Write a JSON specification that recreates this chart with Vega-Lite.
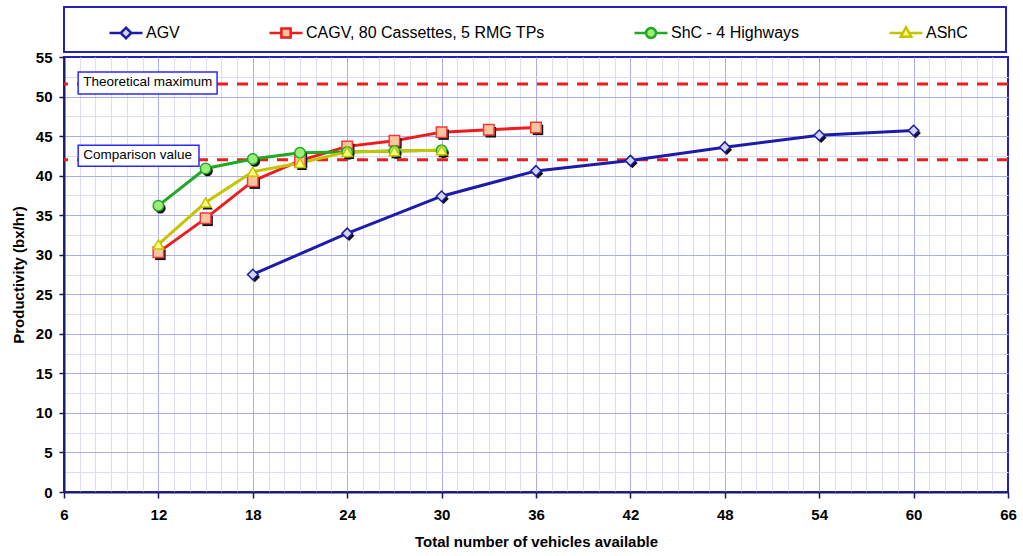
{
  "$schema": "https://vega.github.io/schema/vega-lite/v6.json",
  "width": 944,
  "height": 435,
  "autosize": {"type": "none"},
  "padding": {"left": 64, "top": 57, "right": 15, "bottom": 64},
  "background": "white",
  "config": {
    "font": "Liberation Sans",
    "view": {"stroke": "#2323b8", "strokeWidth": 2}
  },
  "datasets": {
    "series": [
      {"series": "AGV", "vehicles": 18, "productivity": 27.5},
      {"series": "AGV", "vehicles": 24, "productivity": 32.7},
      {"series": "AGV", "vehicles": 30, "productivity": 37.4},
      {"series": "AGV", "vehicles": 36, "productivity": 40.6},
      {"series": "AGV", "vehicles": 42, "productivity": 41.9},
      {"series": "AGV", "vehicles": 48, "productivity": 43.6},
      {"series": "AGV", "vehicles": 54, "productivity": 45.1},
      {"series": "AGV", "vehicles": 60, "productivity": 45.7},
      {"series": "CAGV, 80 Cassettes, 5 RMG TPs", "vehicles": 12, "productivity": 30.3},
      {"series": "CAGV, 80 Cassettes, 5 RMG TPs", "vehicles": 15, "productivity": 34.6},
      {"series": "CAGV, 80 Cassettes, 5 RMG TPs", "vehicles": 18, "productivity": 39.3},
      {"series": "CAGV, 80 Cassettes, 5 RMG TPs", "vehicles": 21, "productivity": 41.9},
      {"series": "CAGV, 80 Cassettes, 5 RMG TPs", "vehicles": 24, "productivity": 43.7},
      {"series": "CAGV, 80 Cassettes, 5 RMG TPs", "vehicles": 27, "productivity": 44.4},
      {"series": "CAGV, 80 Cassettes, 5 RMG TPs", "vehicles": 30, "productivity": 45.5},
      {"series": "CAGV, 80 Cassettes, 5 RMG TPs", "vehicles": 33, "productivity": 45.8},
      {"series": "CAGV, 80 Cassettes, 5 RMG TPs", "vehicles": 36, "productivity": 46.1},
      {"series": "ShC - 4 Highways", "vehicles": 12, "productivity": 36.2},
      {"series": "ShC - 4 Highways", "vehicles": 15, "productivity": 40.9},
      {"series": "ShC - 4 Highways", "vehicles": 18, "productivity": 42.1},
      {"series": "ShC - 4 Highways", "vehicles": 21, "productivity": 42.9},
      {"series": "ShC - 4 Highways", "vehicles": 24, "productivity": 43.0},
      {"series": "ShC - 4 Highways", "vehicles": 27, "productivity": 43.1},
      {"series": "ShC - 4 Highways", "vehicles": 30, "productivity": 43.2},
      {"series": "AShC", "vehicles": 12, "productivity": 31.3},
      {"series": "AShC", "vehicles": 15, "productivity": 36.6},
      {"series": "AShC", "vehicles": 18, "productivity": 40.5},
      {"series": "AShC", "vehicles": 21, "productivity": 41.6},
      {"series": "AShC", "vehicles": 24, "productivity": 43.0},
      {"series": "AShC", "vehicles": 27, "productivity": 43.1},
      {"series": "AShC", "vehicles": 30, "productivity": 43.2}
    ],
    "refs": [
      {"label": "Theoretical maximum", "value": 51.6},
      {"label": "Comparison value", "value": 42.0}
    ]
  },
  "layer": [
    {
      "data": {"name": "refs"},
      "mark": {"type": "rule", "color": "#ee1c1c", "strokeWidth": 3, "strokeDash": [11, 9]},
      "encoding": {
        "y": {
          "field": "value",
          "type": "quantitative",
          "scale": {"domain": [0, 55], "nice": false, "zero": false},
          "axis": {
            "values": [0, 2.5, 5, 7.5, 10, 12.5, 15, 17.5, 20, 22.5, 25, 27.5, 30, 32.5, 35, 37.5, 40, 42.5, 45, 47.5, 50, 52.5, 55],
            "tickCount": 500,
            "format": "d",
            "labelExpr": "datum.value % 5 === 0 ? datum.label : ''",
            "labelOverlap": false,
            "grid": true,
            "gridColor": {"condition": {"test": "datum.value % 5 === 0", "value": "#ababf0"}, "value": "#dcdcf7"},
            "gridOpacity": {"condition": {"test": "datum.value === 0 || datum.value === 55", "value": 0}, "value": 1},
            "tickColor": {"condition": {"test": "datum.value % 5 === 0", "value": "#1a1a50"}, "value": "transparent"},
            "tickSize": 5,
            "tickWidth": 1.5,
            "domainColor": "#1a1a6e",
            "domainWidth": 2,
            "labelFont": "Liberation Sans",
            "labelFontSize": 15,
            "labelFontWeight": "bold",
            "labelColor": "black",
            "labelPadding": 7,
            "title": "Productivity (bx/hr)",
            "titleFont": "Liberation Sans",
            "titleFontSize": 15,
            "titleFontWeight": "bold",
            "titleColor": "black",
            "titlePadding": 9
          }
        }
      }
    },
    {
      "data": {"name": "refs"},
      "transform": [{"filter": "datum.label === 'Theoretical maximum'"}],
      "mark": {"type": "rect", "fill": "white", "stroke": "#2a2aff", "strokeWidth": 1.5, "yOffset": -12, "y2Offset": 10},
      "encoding": {
        "x": {"datum": 6.9, "type": "quantitative"},
        "x2": {"datum": 15.73},
        "y": {"field": "value", "type": "quantitative"},
        "y2": {"field": "value"}
      }
    },
    {
      "data": {"name": "refs"},
      "transform": [{"filter": "datum.label === 'Comparison value'"}],
      "mark": {"type": "rect", "fill": "white", "stroke": "#2a2aff", "strokeWidth": 1.5, "yOffset": -14.5, "y2Offset": 6.5},
      "encoding": {
        "x": {"datum": 6.9, "type": "quantitative"},
        "x2": {"datum": 14.58},
        "y": {"field": "value", "type": "quantitative"},
        "y2": {"field": "value"}
      }
    },
    {
      "data": {"name": "refs"},
      "transform": [{"filter": "datum.label === 'Theoretical maximum'"}],
      "mark": {"type": "text", "align": "left", "baseline": "middle", "dx": 5, "dy": -2, "fontSize": 13.5, "font": "Liberation Sans", "color": "black"},
      "encoding": {
        "x": {"datum": 6.9, "type": "quantitative"},
        "y": {"field": "value", "type": "quantitative"},
        "text": {"field": "label"}
      }
    },
    {
      "data": {"name": "refs"},
      "transform": [{"filter": "datum.label === 'Comparison value'"}],
      "mark": {"type": "text", "align": "left", "baseline": "middle", "dx": 5, "dy": -5, "fontSize": 13.5, "font": "Liberation Sans", "color": "black"},
      "encoding": {
        "x": {"datum": 6.9, "type": "quantitative"},
        "y": {"field": "value", "type": "quantitative"},
        "text": {"field": "label"}
      }
    },
    {
      "data": {"name": "series"},
      "mark": {"type": "line", "strokeWidth": 3},
      "encoding": {
        "x": {
          "field": "vehicles",
          "type": "quantitative",
          "scale": {"domain": [6, 66], "nice": false, "zero": false},
          "axis": {
            "values": [6, 7, 8, 9, 10, 11, 12, 13, 14, 15, 16, 17, 18, 19, 20, 21, 22, 23, 24, 25, 26, 27, 28, 29, 30, 31, 32, 33, 34, 35, 36, 37, 38, 39, 40, 41, 42, 43, 44, 45, 46, 47, 48, 49, 50, 51, 52, 53, 54, 55, 56, 57, 58, 59, 60, 61, 62, 63, 64, 65, 66],
            "tickCount": 500,
            "format": "d",
            "labelExpr": "datum.value % 6 === 0 ? datum.label : ''",
            "labelOverlap": false,
            "labelFlush": false,
            "grid": true,
            "gridColor": {"condition": {"test": "datum.value % 6 === 0", "value": "#ababf0"}, "value": "#dcdcf7"},
            "gridOpacity": {"condition": {"test": "datum.value === 6 || datum.value === 66", "value": 0}, "value": 1},
            "tickColor": {"condition": {"test": "datum.value % 6 === 0", "value": "#1a1a50"}, "value": "transparent"},
            "tickSize": 6,
            "tickWidth": 1.5,
            "domainColor": "#1a1a6e",
            "domainWidth": 2,
            "labelFont": "Liberation Sans",
            "labelFontSize": 15,
            "labelFontWeight": "bold",
            "labelColor": "black",
            "labelPadding": 9,
            "title": "Total number of vehicles available",
            "titleFont": "Liberation Sans",
            "titleFontSize": 15,
            "titleFontWeight": "bold",
            "titleColor": "black",
            "titlePadding": 12
          }
        },
        "y": {"field": "productivity", "type": "quantitative"},
        "color": {
          "field": "series",
          "type": "nominal",
          "scale": {
            "domain": ["AGV", "CAGV, 80 Cassettes, 5 RMG TPs", "ShC - 4 Highways", "AShC"],
            "range": ["#1c1ca8", "#ee1c1c", "#22a822", "#c4c400"]
          },
          "legend": {
            "orient": "none",
            "legendX": 0,
            "legendY": -50,
            "direction": "horizontal",
            "columns": 4,
            "gridAlign": "none",
            "title": " ",
            "titleOrient": "right",
            "titlePadding": 30,
            "titleFontSize": 2,
            "padding": 8,
            "strokeColor": "#2323b8",
            "fillColor": "white",
            "symbolSize": 1089,
            "symbolStrokeWidth": 2.5,
            "symbolOffset": 36,
            "columnPadding": 52,
            "labelOffset": 2,
            "labelFont": "Liberation Sans",
            "labelFontSize": 16,
            "labelColor": "black",
            "labelLimit": 400,
            "encode": {
              "legend": {"update": {"strokeWidth": {"value": 2}}},
              "symbols": {
                "update": {
                  "shape": {"signal": "datum.value === 'AGV' ? 'M-1,0L-0.32,0M0.32,0L1,0M0,-0.32L0.32,0L0,0.32L-0.32,0Z' : datum.value === 'ShC - 4 Highways' ? 'M-1,0L-0.3,0M0.3,0L1,0M-0.3,0A0.3,0.3,0,1,0,0.3,0A0.3,0.3,0,1,0,-0.3,0Z' : datum.value === 'AShC' ? 'M-1,0L-0.2,0M0.2,0L1,0M0,-0.34L0.32,0.22L-0.32,0.22Z' : 'M-1,0L-0.28,0M0.28,0L1,0M-0.28,-0.28L0.28,-0.28L0.28,0.28L-0.28,0.28Z'"},
                  "fill": {"signal": "datum.value === 'AGV' ? '#d4d4f8' : datum.value === 'ShC - 4 Highways' ? '#9cee7c' : datum.value === 'AShC' ? '#ffff80' : '#ffc49e'"},
                  "stroke": {"signal": "datum.value === 'AGV' ? '#1c1ca8' : datum.value === 'ShC - 4 Highways' ? '#22a822' : datum.value === 'AShC' ? '#c4c400' : '#ee1c1c'"},
                  "strokeWidth": {"value": 2.5},
                  "opacity": {"value": 1}
                }
              }
            }
          }
        }
      }
    },
    {
      "data": {"name": "series"},
      "mark": {"type": "point", "filled": true, "opacity": 1, "color": "#111111", "size": 110, "xOffset": 2, "yOffset": 2.5},
      "encoding": {
        "x": {"field": "vehicles", "type": "quantitative"},
        "y": {"field": "productivity", "type": "quantitative"},
        "shape": {
          "condition": [
            {"test": "datum.series === 'AGV'", "value": "diamond"},
            {"test": "datum.series === 'CAGV, 80 Cassettes, 5 RMG TPs'", "value": "square"},
            {"test": "datum.series === 'ShC - 4 Highways'", "value": "circle"}
          ],
          "value": "triangle-up"
        }
      }
    },
    {
      "data": {"name": "series"},
      "mark": {"type": "point", "filled": true, "opacity": 1, "size": 110, "strokeWidth": 1.5},
      "encoding": {
        "x": {"field": "vehicles", "type": "quantitative"},
        "y": {"field": "productivity", "type": "quantitative"},
        "shape": {
          "condition": [
            {"test": "datum.series === 'AGV'", "value": "diamond"},
            {"test": "datum.series === 'CAGV, 80 Cassettes, 5 RMG TPs'", "value": "square"},
            {"test": "datum.series === 'ShC - 4 Highways'", "value": "circle"}
          ],
          "value": "triangle-up"
        },
        "fill": {
          "condition": [
            {"test": "datum.series === 'AGV'", "value": "#d4d4f8"},
            {"test": "datum.series === 'CAGV, 80 Cassettes, 5 RMG TPs'", "value": "#ffc49e"},
            {"test": "datum.series === 'ShC - 4 Highways'", "value": "#9cee7c"}
          ],
          "value": "#ffff80"
        },
        "stroke": {
          "condition": [
            {"test": "datum.series === 'AGV'", "value": "#1c1ca8"},
            {"test": "datum.series === 'CAGV, 80 Cassettes, 5 RMG TPs'", "value": "#ee3a3a"},
            {"test": "datum.series === 'ShC - 4 Highways'", "value": "#22a822"}
          ],
          "value": "#c4c400"
        }
      }
    }
  ]
}
